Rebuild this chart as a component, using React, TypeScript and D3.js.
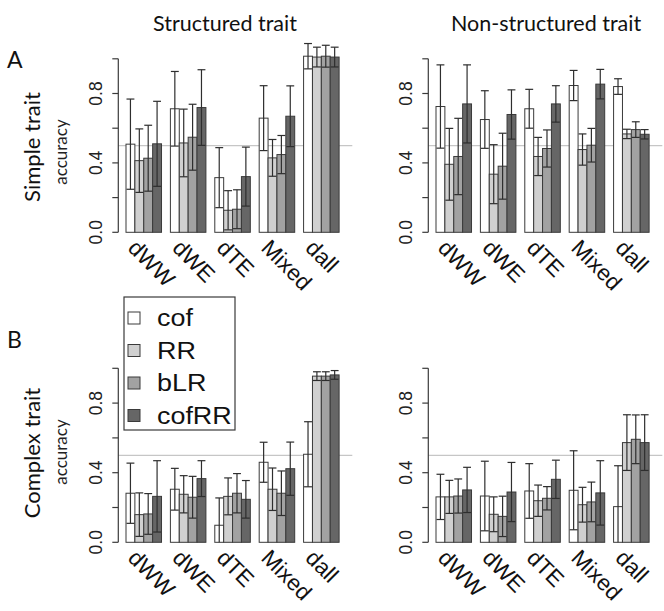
import React from "react";
import * as d3 from "d3";

const categories = ["dWW", "dWE", "dTE", "Mixed", "dall"];
const methods = ["cof", "RR", "bLR", "cofRR"];
const methodColors = ["#ffffff", "#d0d0d0", "#a2a2a2", "#666666"];
const yTicks = [0, 0.2, 0.4, 0.6, 0.8, 1.0];
const yTickLabels = ["0.0", "", "0.4", "", "0.8", ""];
const columnTitles = ["Structured trait", "Non-structured trait"];
const rowTitles = ["Simple trait", "Complex trait"];
const rowLetters = ["A", "B"];
const refLine = 0.5;

// rows = categories, columns = methods (cof, RR, bLR, cofRR)
const simpleStructuredMean = [
  [0.508, 0.413, 0.427, 0.51],
  [0.712, 0.515, 0.548, 0.719],
  [0.315, 0.127, 0.133, 0.321],
  [0.658, 0.429, 0.448, 0.669],
  [1.015, 1.01, 1.015, 1.01],
];
const simpleStructuredSd = [
  [0.26, 0.183, 0.19, 0.245],
  [0.215, 0.195, 0.19, 0.218],
  [0.173, 0.113, 0.112, 0.17],
  [0.187, 0.106, 0.11, 0.175],
  [0.073, 0.057, 0.063, 0.057],
];
const simpleNonStructuredMean = [
  [0.725, 0.392, 0.437, 0.74],
  [0.65, 0.335, 0.381, 0.679],
  [0.712, 0.437, 0.483, 0.74],
  [0.846, 0.477, 0.502, 0.854],
  [0.84, 0.567, 0.592, 0.565],
];
const simpleNonStructuredSd = [
  [0.24, 0.207, 0.22, 0.225],
  [0.166, 0.17, 0.19, 0.142],
  [0.112, 0.11, 0.107, 0.105],
  [0.087, 0.09, 0.097, 0.085],
  [0.045, 0.027, 0.045, 0.027],
];
const complexStructuredMean = [
  [0.282, 0.159, 0.163, 0.264],
  [0.305, 0.276, 0.259, 0.366],
  [0.098, 0.264, 0.282, 0.247],
  [0.46, 0.305, 0.282, 0.423],
  [0.506, 0.955, 0.955, 0.962],
];
const complexStructuredSd = [
  [0.173, 0.125, 0.117, 0.205],
  [0.12, 0.107, 0.12, 0.103],
  [0.157, 0.106, 0.113, 0.108],
  [0.115, 0.122, 0.128, 0.153],
  [0.187, 0.025, 0.025, 0.025],
];
const complexNonStructuredMean = [
  [0.261, 0.261, 0.266, 0.301],
  [0.266, 0.161, 0.149, 0.289],
  [0.295, 0.239, 0.253, 0.362],
  [0.299, 0.216, 0.232, 0.284],
  [0.205, 0.573, 0.592, 0.573],
];
const complexNonStructuredSd = [
  [0.13, 0.095, 0.098, 0.13],
  [0.2, 0.1, 0.116, 0.17],
  [0.157, 0.09, 0.067, 0.11],
  [0.227, 0.1, 0.114, 0.185],
  [0.235, 0.16, 0.14, 0.16],
];

const W = 664;
const H = 611;
const colAxisX = [118.3, 428.3];
const colBarStart = [126, 436];
const barsSpan = 213.1;
const rowZero = [232.3, 542.3];
const rowTop = [58.8, 368.3];

const STROKE = "#3a3a3a";
const SANS = "'Liberation Sans', Arial, sans-serif";
const TITLE = "Lato, 'Open Sans', sans-serif";

function Panel({ mean, sd, col, row }: any) {
  const axisX = colAxisX[col];
  const y = d3.scaleLinear().domain([0, 1]).range([rowZero[row], rowTop[row]]);
  const xg = d3
    .scaleBand()
    .domain(categories)
    .range([colBarStart[col], colBarStart[col] + barsSpan])
    .paddingInner(0.2)
    .paddingOuter(0);
  const xm = d3.scaleBand().domain(methods).range([0, xg.bandwidth()]).padding(0);
  const bw = xm.bandwidth();
  const capW = bw - 1;
  return (
    <g>
      <line
        x1={axisX}
        x2={axisX + 234}
        y1={y(refLine)}
        y2={y(refLine)}
        stroke="#c6c6c6"
        strokeWidth={1.3}
      />
      {categories.map((c, i) =>
        methods.map((m, j) => {
          const x = (xg(c) as number) + (xm(m) as number);
          return (
            <rect
              key={c + m}
              x={x}
              y={y(mean[i][j])}
              width={bw}
              height={y(0) - y(mean[i][j])}
              fill={methodColors[j]}
              stroke={STROKE}
              strokeWidth={1}
            />
          );
        })
      )}
      {categories.map((c, i) =>
        methods.map((m, j) => {
          const cx = (xg(c) as number) + (xm(m) as number) + bw / 2;
          const up = mean[i][j] + sd[i][j];
          const lowRaw = mean[i][j] - sd[i][j];
          const lo = Math.max(0, lowRaw);
          return (
            <g key={"e" + c + m} stroke="#2e2e2e" strokeWidth={1.2}>
              <line x1={cx} x2={cx} y1={y(lo)} y2={y(up)} />
              <line x1={cx - capW / 2} x2={cx + capW / 2} y1={y(up)} y2={y(up)} />
              {lowRaw > 0 && (
                <line x1={cx - capW / 2} x2={cx + capW / 2} y1={y(lo)} y2={y(lo)} />
              )}
            </g>
          );
        })
      )}
      <line x1={axisX} x2={axisX} y1={y(0)} y2={y(1)} stroke={STROKE} strokeWidth={1.2} />
      {yTicks.map((t, k) => (
        <g key={"t" + k}>
          <line x1={axisX - 6} x2={axisX} y1={y(t)} y2={y(t)} stroke={STROKE} strokeWidth={1.2} />
          {yTickLabels[k] && (
            <text
              transform={`translate(${axisX - 16},${y(t)}) rotate(-90)`}
              textAnchor="middle"
              fontFamily={SANS}
              fontSize={17.5}
              fill="#222"
            >
              {yTickLabels[k]}
            </text>
          )}
        </g>
      ))}
      {categories.map((c) => (
        <text
          key={"x" + c}
          transform={`translate(${(xg(c) as number) + xg.bandwidth() / 2 - 17},${y(0) + 17}) rotate(45)`}
          textAnchor="start"
          fontFamily={SANS}
          fontSize={22.5}
          fill="#111"
        >
          {c}
        </text>
      ))}
    </g>
  );
}

export default function App() {
  const panels = [
    { mean: simpleStructuredMean, sd: simpleStructuredSd, col: 0, row: 0 },
    { mean: simpleNonStructuredMean, sd: simpleNonStructuredSd, col: 1, row: 0 },
    { mean: complexStructuredMean, sd: complexStructuredSd, col: 0, row: 1 },
    { mean: complexNonStructuredMean, sd: complexNonStructuredSd, col: 1, row: 1 },
  ];
  const legendRowsY = [318, 350.5, 383, 415.5];
  return (
    <svg
      width={W}
      height={H}
      viewBox={`0 0 ${W} ${H}`}
      style={{ position: "absolute", left: 0, top: 0, background: "#fff" }}
    >
      <rect x={0} y={0} width={W} height={H} fill="#fff" />
      {columnTitles.map((t, i) => (
        <text
          key={t}
          x={[225, 546][i]}
          y={31}
          textAnchor="middle"
          fontFamily={TITLE}
          fontSize={21.5}
          fill="#111"
        >
          {t}
        </text>
      ))}
      {rowLetters.map((l, i) => (
        <text key={l} x={7} y={[68, 348][i]} fontFamily={TITLE} fontSize={23} fill="#111">
          {l}
        </text>
      ))}
      {rowTitles.map((t, i) => (
        <g key={t}>
          <text
            transform={`translate(40,${[147, 453][i]}) rotate(-90)`}
            textAnchor="middle"
            fontFamily={TITLE}
            fontSize={22}
            fill="#111"
          >
            {t}
          </text>
          <text
            transform={`translate(67,${[152, 452][i]}) rotate(-90)`}
            textAnchor="middle"
            fontFamily={TITLE}
            fontSize={17}
            fill="#222"
          >
            accuracy
          </text>
        </g>
      ))}
      {panels.map((p, i) => (
        <Panel key={i} {...p} />
      ))}
      <g>
        <rect x={124} y={297} width={111} height={133} fill="#fff" stroke={STROKE} strokeWidth={1.2} />
        {methods.map((m, j) => (
          <g key={"lg" + m}>
            <rect
              x={128}
              y={legendRowsY[j] - 6}
              width={12}
              height={12}
              fill={methodColors[j]}
              stroke={STROKE}
              strokeWidth={1}
            />
            <text
              transform={`translate(157,${legendRowsY[j] + 8}) scale(1.17,1)`}
              fontFamily={SANS}
              fontSize={23}
              fill="#111"
            >
              {m}
            </text>
          </g>
        ))}
      </g>
    </svg>
  );
}
